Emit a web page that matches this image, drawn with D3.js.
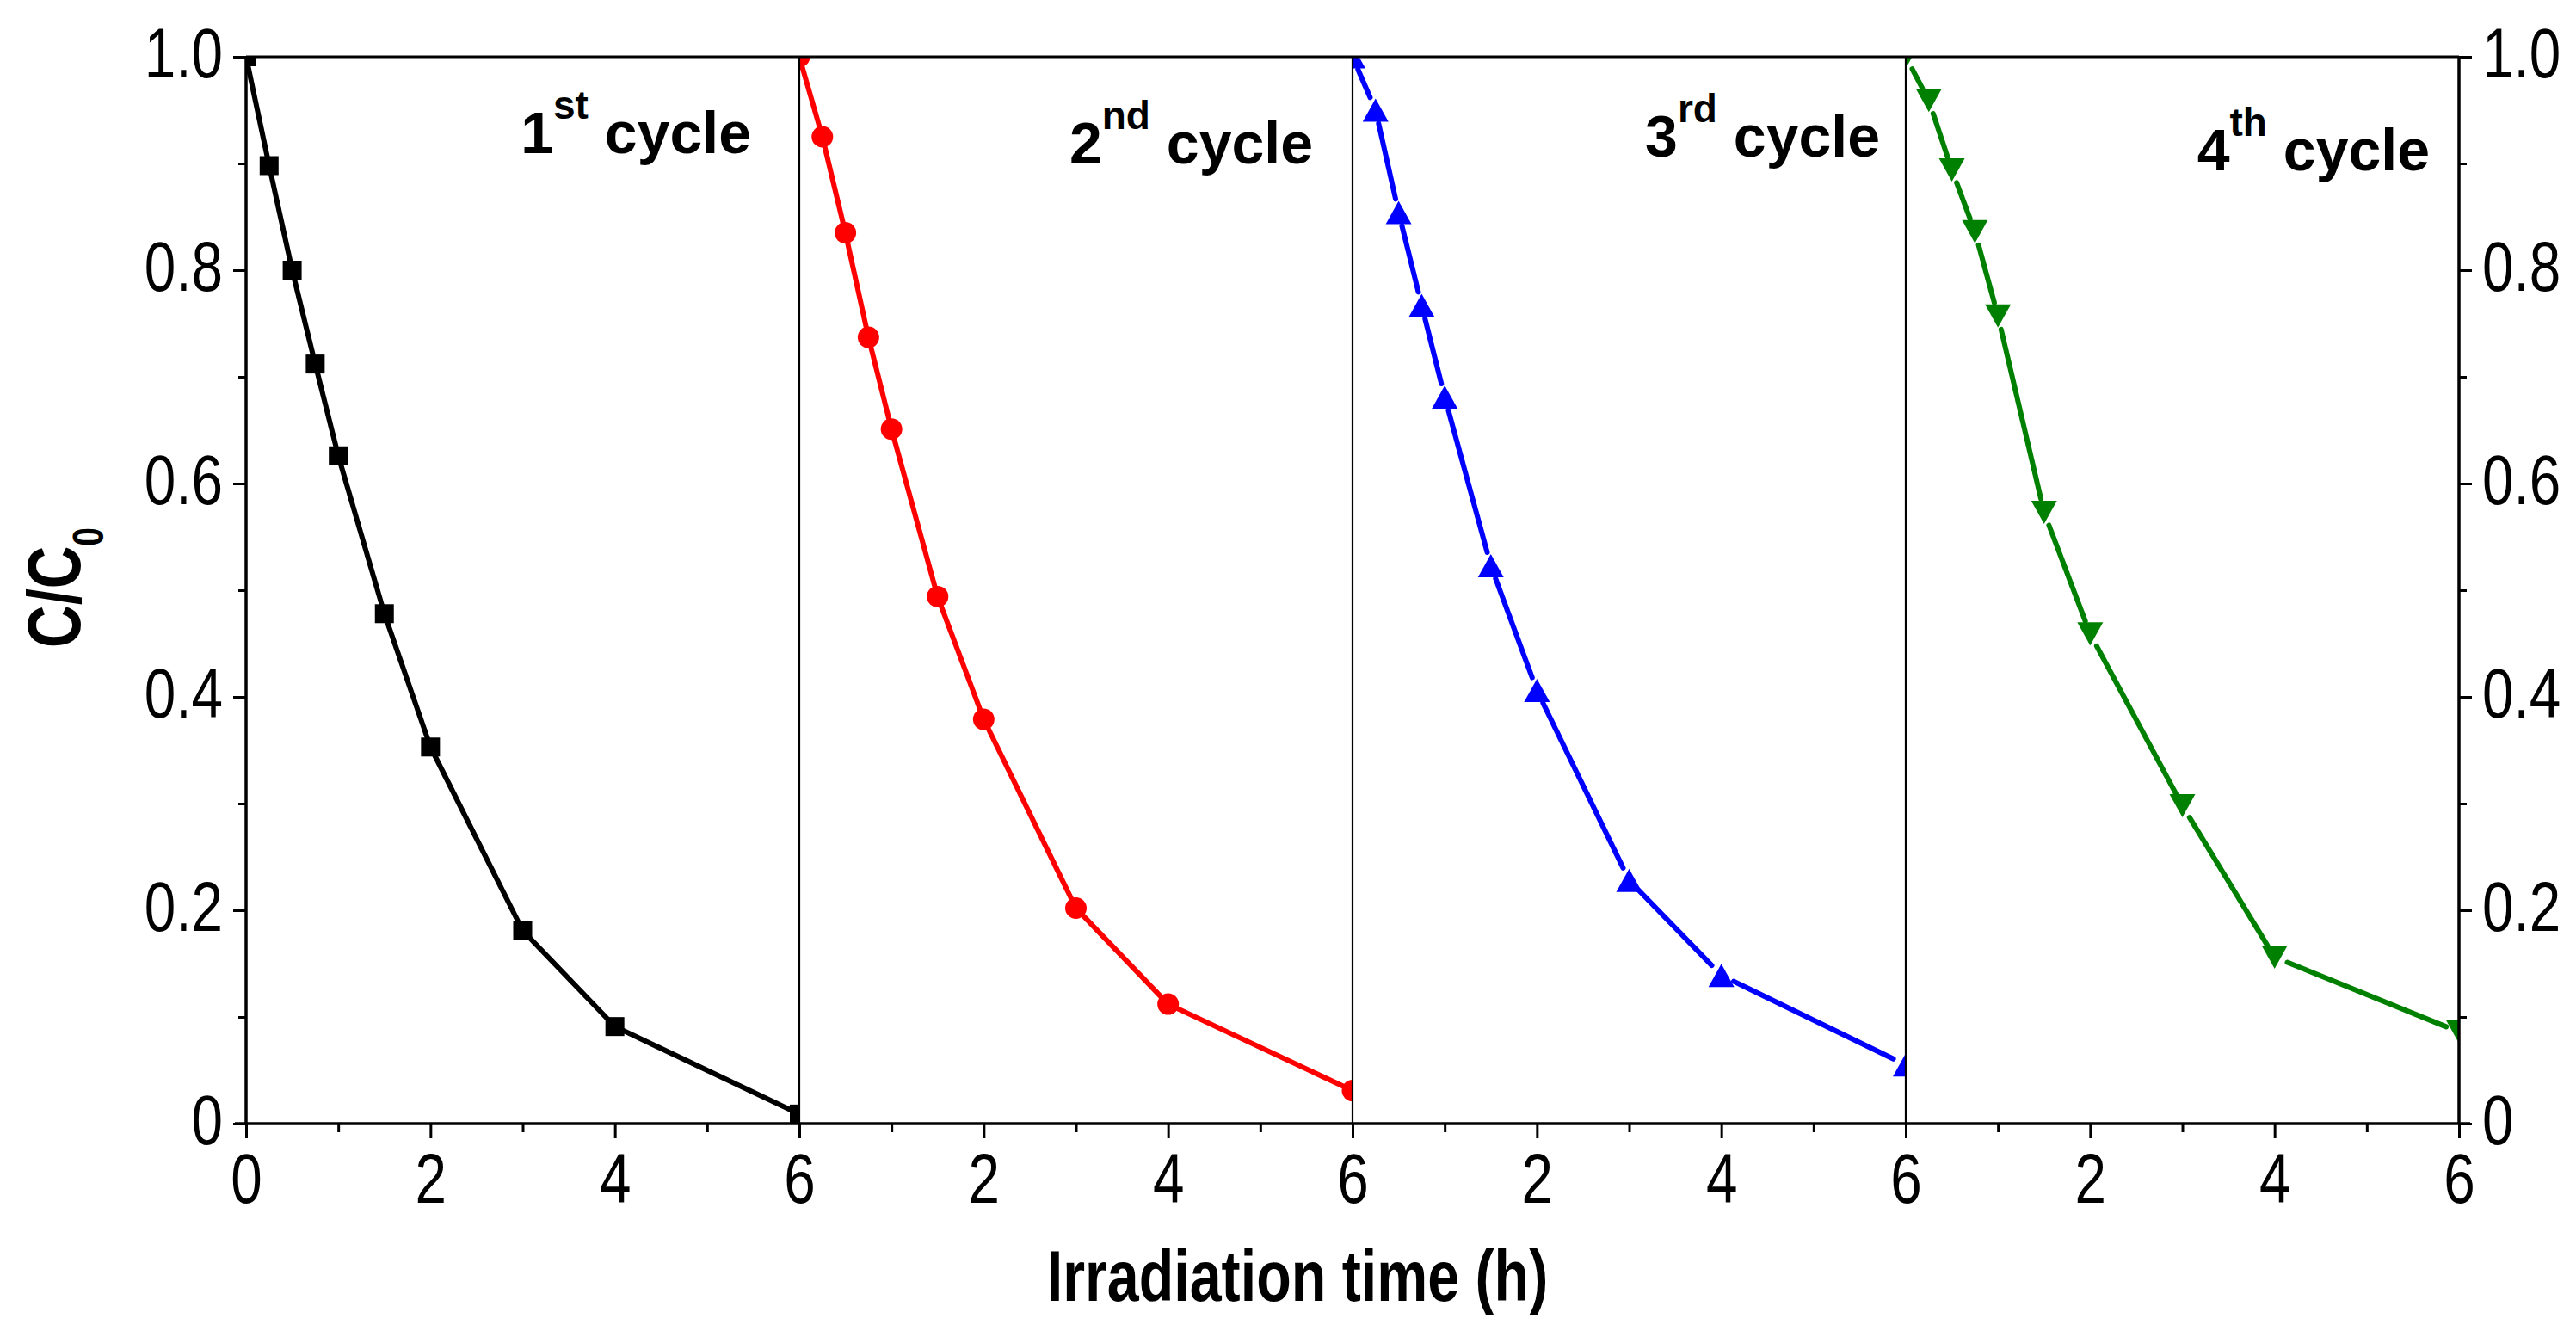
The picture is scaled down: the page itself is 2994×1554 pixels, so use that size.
<!DOCTYPE html>
<html>
<head>
<meta charset="utf-8">
<script src="https://cdn.jsdelivr.net/npm/d3@7"></script>
<style>
  html, body { margin: 0; padding: 0; background: #fff; }
  svg { display: block; }
  text { font-family: "Liberation Sans", Arial, sans-serif; fill: #000; }
</style>
</head>
<body>
<svg id="chart" width="2994" height="1554"></svg>
<script>
// ---------------- data ----------------
const times = [0, 0.25, 0.5, 0.75, 1, 1.5, 2, 3, 4, 6];
const cycle1 = [1.0, 0.898, 0.800, 0.712, 0.626, 0.478, 0.353, 0.181, 0.091, 0.009];
const cycle2 = [1.0, 0.925, 0.835, 0.737, 0.651, 0.494, 0.379, 0.202, 0.112, 0.031];
const cycle3 = [1.0, 0.950, 0.854, 0.767, 0.681, 0.523, 0.406, 0.228, 0.139, 0.055];
const cycle4 = [1.0, 0.959, 0.894, 0.836, 0.757, 0.573, 0.459, 0.298, 0.156, 0.086];
const cycleNumbers = ["1", "2", "3", "4"];
const cycleSuffixes = ["st", "nd", "rd", "th"];
const yMajorTicks = [0, 0.2, 0.4, 0.6, 0.8, 1.0];
const yMinorTicks = [0.1, 0.3, 0.5, 0.7, 0.9];
const xMajorTicks = [0, 2, 4, 6];
const xMinorTicks = [1, 3, 5];
const xLabel = "Irradiation time (h)";
const yLabelMain = "C/C";
const yLabelSub = "0";

// ---------------- styles / layout ----------------
const seriesStyle = [
  { color: "#000000", shape: "square", gap: 11 },
  { color: "#ff0000", shape: "circle", gap: 0 },
  { color: "#0000ff", shape: "up", gap: 16 },
  { color: "#008000", shape: "down", gap: 16 }
];
const labelLayout = [
  { dx: 56, baseline: 178 },
  { dx: 46, baseline: 190 },
  { dx: 30, baseline: 182 },
  { dx: 34, baseline: 198 }
];
const L = 286, R = 2858, T = 66, B = 1306;
const nPanels = 4;
const pw = (R - L) / nPanels;
const NARROW = 0.8;

const svg = d3.select("#chart");
svg.append("rect").attr("width", 2994).attr("height", 1554).attr("fill", "#fff");

const y = d3.scaleLinear().domain([0, 1]).range([B, T]);
const series = [cycle1, cycle2, cycle3, cycle4];
const xScales = d3.range(nPanels).map(i =>
  d3.scaleLinear().domain([0, 6]).range([L + i * pw, L + (i + 1) * pw]));

const defs = svg.append("defs");

function markerPath(shape) {
  if (shape === "square") return "M-11,-11H11V11H-11Z";
  if (shape === "circle") return d3.symbol(d3.symbolCircle, Math.PI * 12.5 * 12.5)();
  if (shape === "up") return "M0,-13.5L15,13.5L-15,13.5Z";
  return "M0,13.5L15,-13.5L-15,-13.5Z";
}

series.forEach((vals, i) => {
  const x = xScales[i];
  const st = seriesStyle[i];
  defs.append("clipPath").attr("id", "clip" + i)
    .append("rect")
    .attr("x", x.range()[0]).attr("y", T)
    .attr("width", pw).attr("height", B - T);
  const g = svg.append("g").attr("clip-path", `url(#clip${i})`);
  const pts = times.map((t, k) => [x(t), y(vals[k])]);
  const segs = [];
  for (let k = 0; k < pts.length - 1; k++) {
    const [x1, y1] = pts[k], [x2, y2] = pts[k + 1];
    const len = Math.hypot(x2 - x1, y2 - y1);
    const ux = (x2 - x1) / len, uy = (y2 - y1) / len;
    const gp = st.gap;
    if (len > 2 * gp + 2) segs.push([[x1 + ux * gp, y1 + uy * gp], [x2 - ux * gp, y2 - uy * gp]]);
  }
  g.selectAll("path.seg").data(segs).join("path")
    .attr("class", "seg")
    .attr("d", d => d3.line()(d))
    .attr("fill", "none")
    .attr("stroke", st.color)
    .attr("stroke-width", 6)
    .attr("stroke-linecap", "round");
  g.selectAll("path.mk").data(pts).join("path")
    .attr("class", "mk")
    .attr("transform", d => `translate(${d[0]},${d[1]})`)
    .attr("d", markerPath(st.shape))
    .attr("fill", st.color);
});

// ---------------- axes ----------------
const fmtY = d => d === 0 ? "0" : d3.format(".1f")(d);

function styleAxis(g) {
  g.select(".domain").remove();
  g.selectAll(".tick line").attr("stroke", "#000").attr("stroke-width", 3);
  g.selectAll(".tick text").attr("font-size", 82).attr("fill", "#000");
}

const gl = svg.append("g").attr("transform", `translate(${L},0)`)
  .call(d3.axisLeft(y).tickValues(yMajorTicks).tickFormat(fmtY).tickSize(15).tickPadding(12));
styleAxis(gl);
gl.selectAll(".tick text")
  .attr("x", -27 / NARROW).attr("dy", "0.29em")
  .attr("transform", `scale(${NARROW},1)`);
svg.append("g").attr("transform", `translate(${L},0)`)
  .call(d3.axisLeft(y).tickValues(yMinorTicks).tickFormat("").tickSize(9))
  .call(styleAxis);

const gr = svg.append("g").attr("transform", `translate(${R},0)`)
  .call(d3.axisRight(y).tickValues(yMajorTicks).tickFormat(fmtY).tickSize(15).tickPadding(12));
styleAxis(gr);
gr.selectAll(".tick text")
  .attr("x", 27 / NARROW).attr("dy", "0.29em")
  .attr("transform", `scale(${NARROW},1)`);
svg.append("g").attr("transform", `translate(${R},0)`)
  .call(d3.axisRight(y).tickValues(yMinorTicks).tickFormat("").tickSize(9))
  .call(styleAxis);

xScales.forEach((x, i) => {
  const gb = svg.append("g").attr("transform", `translate(0,${B})`)
    .call(d3.axisBottom(x).tickValues(i === 0 ? xMajorTicks : xMajorTicks.slice(1)).tickFormat(d3.format("d")).tickSize(17));
  styleAxis(gb);
  gb.selectAll(".tick text").attr("y", 92).attr("dy", 0)
    .attr("transform", `scale(${NARROW},1)`)
    .attr("x", 0);
  svg.append("g").attr("transform", `translate(0,${B})`)
    .call(d3.axisBottom(x).tickValues(xMinorTicks).tickFormat("").tickSize(10))
    .call(styleAxis);
});

// frame
svg.append("line").attr("x1", L - 13).attr("x2", R + 13).attr("y1", B).attr("y2", B)
  .attr("stroke", "#000").attr("stroke-width", 3.5);
svg.append("line").attr("x1", L).attr("x2", R).attr("y1", T).attr("y2", T)
  .attr("stroke", "#000").attr("stroke-width", 3);
svg.append("line").attr("x1", L).attr("x2", L).attr("y1", T).attr("y2", B)
  .attr("stroke", "#000").attr("stroke-width", 3.5);
svg.append("line").attr("x1", R).attr("x2", R).attr("y1", T).attr("y2", B)
  .attr("stroke", "#000").attr("stroke-width", 3.5);
d3.range(1, nPanels).forEach(i => {
  const xx = xScales[i].range()[0];
  svg.append("line").attr("x1", xx).attr("x2", xx).attr("y1", T).attr("y2", B)
    .attr("stroke", "#000").attr("stroke-width", 2.2);
});

// panel labels
cycleNumbers.forEach((n, i) => {
  const right = xScales[i].range()[1] - labelLayout[i].dx;
  const t = svg.append("text")
    .attr("x", right).attr("y", labelLayout[i].baseline)
    .attr("text-anchor", "end")
    .attr("font-weight", "bold").attr("font-size", 68);
  t.append("tspan").text(n);
  t.append("tspan").attr("font-size", 46).attr("dy", -40).text(cycleSuffixes[i]);
  t.append("tspan").attr("font-size", 68).attr("dy", 40).text("\u00a0cycle");
});

// axis titles
svg.append("text")
  .attr("transform", `translate(1508,1512) scale(0.79,1)`)
  .attr("text-anchor", "middle")
  .attr("font-weight", "bold").attr("font-size", 84)
  .text(xLabel);

const yt = svg.append("text")
  .attr("transform", `translate(93,683) rotate(-90) scale(0.78,1)`)
  .attr("text-anchor", "middle")
  .attr("font-weight", "bold").attr("font-size", 88);
yt.append("tspan").text(yLabelMain);
yt.append("tspan").attr("font-size", 50).attr("dy", 27).text(yLabelSub);
</script>
</body>
</html>
